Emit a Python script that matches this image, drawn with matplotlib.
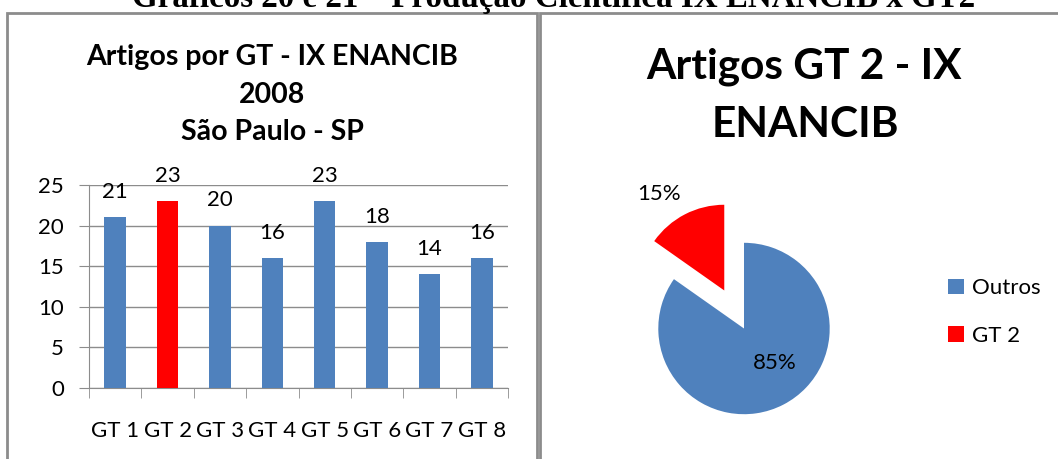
import matplotlib
matplotlib.use("Agg")
import matplotlib.pyplot as plt
from matplotlib.patches import Rectangle

# ---- data ----
categories = ["GT 1", "GT 2", "GT 3", "GT 4", "GT 5", "GT 6", "GT 7", "GT 8"]
artigos = [21, 23, 20, 16, 23, 18, 14, 16]
highlight = "GT 2"
pie_labels = ["Outros", "GT 2"]
pie_values = [sum(artigos) - 23, 23]
yticks = [0, 5, 10, 15, 20, 25]

BLUE = "#4f81bd"
RED = "#ff0000"
GRID = "#8c8c8c"

W, H = 1058, 459
fig = plt.figure(figsize=(W / 100, H / 100), dpi=100)
plt.rcParams["font.family"] = ["Lato", "DejaVu Sans"]


def fx(px):
    return px / W


def fy(py):
    return 1 - py / H


# panel borders
fig.patches.append(Rectangle((fx(7), fy(470)), fx(530), fy(13) - fy(470),
                             transform=fig.transFigure, fill=False,
                             edgecolor=GRID, lw=2.0))
fig.patches.append(Rectangle((fx(540), fy(470)), fx(530), fy(13) - fy(470),
                             transform=fig.transFigure, fill=False,
                             edgecolor=GRID, lw=2.0))

# top caption (clipped by the figure edge as in the source)
fig.text(fx(554), fy(7), "Gráficos 20 e 21 – Produção Científica IX ENANCIB x GT2",
         family="Liberation Serif", weight="bold", fontsize=23.8,
         ha="center", va="baseline")

# ---- bar chart ----
ax = fig.add_axes([fx(89), fy(388), fx(508) - fx(89), fy(185) - fy(388)])
x = list(range(len(categories)))
colors = [RED if c == highlight else BLUE for c in categories]
bars = ax.bar(x, artigos, width=0.41, color=colors, zorder=3)
ax.set_xlim(-0.5, len(categories) - 0.5)
ax.set_ylim(0, 25)
ax.set_yticks(yticks)
ax.set_yticklabels([str(t) for t in yticks], fontsize=16)
ax.yaxis.grid(True, color=GRID, lw=1.0, zorder=0)
ax.set_xticks(x)
ax.set_xticklabels(categories, fontsize=16)
ax.tick_params(axis="x", length=0, pad=24)
ax.tick_params(axis="y", length=7, color=GRID, pad=11)
for sp in ["top", "right"]:
    ax.spines[sp].set_visible(False)
ax.spines["left"].set_color(GRID)
ax.spines["bottom"].set_color(GRID)
# category boundary ticks below axis
ax.set_xticks([i - 0.5 for i in range(len(categories) + 1)], minor=True)
ax.tick_params(axis="x", which="minor", length=7, color=GRID, direction="out")
for b, v in zip(bars, artigos):
    ax.annotate(str(v), (b.get_x() + b.get_width() / 2, v), xytext=(0, 11),
                textcoords="offset points", ha="center", va="bottom", fontsize=16)

fig.text(fx(272), fy(65), "Artigos por GT - IX ENANCIB", fontsize=20.5,
         weight="bold", ha="center", va="baseline")
fig.text(fx(272), fy(103), "2008", fontsize=20.5, weight="bold",
         ha="center", va="baseline")
fig.text(fx(272), fy(140), "São Paulo - SP", fontsize=20.5, weight="bold",
         ha="center", va="baseline")

# ---- pie chart ----
R = 85.7
a = 1.9
half = a * R
cx, cy = 744, 328.5
pax = fig.add_axes([fx(cx - half), fy(cy + half), 2 * half / W, 2 * half / H])
wedges, texts, autotexts = pax.pie(pie_values, colors=[BLUE, RED], startangle=90,
                                   counterclock=False, explode=[0, 0.5],
                                   autopct="%1.0f%%", pctdistance=0.55,
                                   textprops={"fontsize": 16})
pax.set_xlim(-a, a)
pax.set_ylim(-a, a)
pax.set_aspect("equal")
pax.axis("off")
autotexts[0].set_position((0.36, -0.40))
autotexts[1].set_position((-0.99, 1.57))

fig.text(fx(804), fy(79), "Artigos GT 2 - IX", fontsize=30.5, weight="bold",
         ha="center", va="baseline")
fig.text(fx(805), fy(137), "ENANCIB", fontsize=30.5, weight="bold",
         ha="center", va="baseline")

pax.legend(wedges, pie_labels, loc="center left",
           bbox_to_anchor=(fx(928), fy(312)), bbox_transform=fig.transFigure,
           frameon=False, fontsize=16, handlelength=0.7, handleheight=0.7,
           handletextpad=0.4, labelspacing=1.25)

fig.savefig("out.png", dpi=100)
